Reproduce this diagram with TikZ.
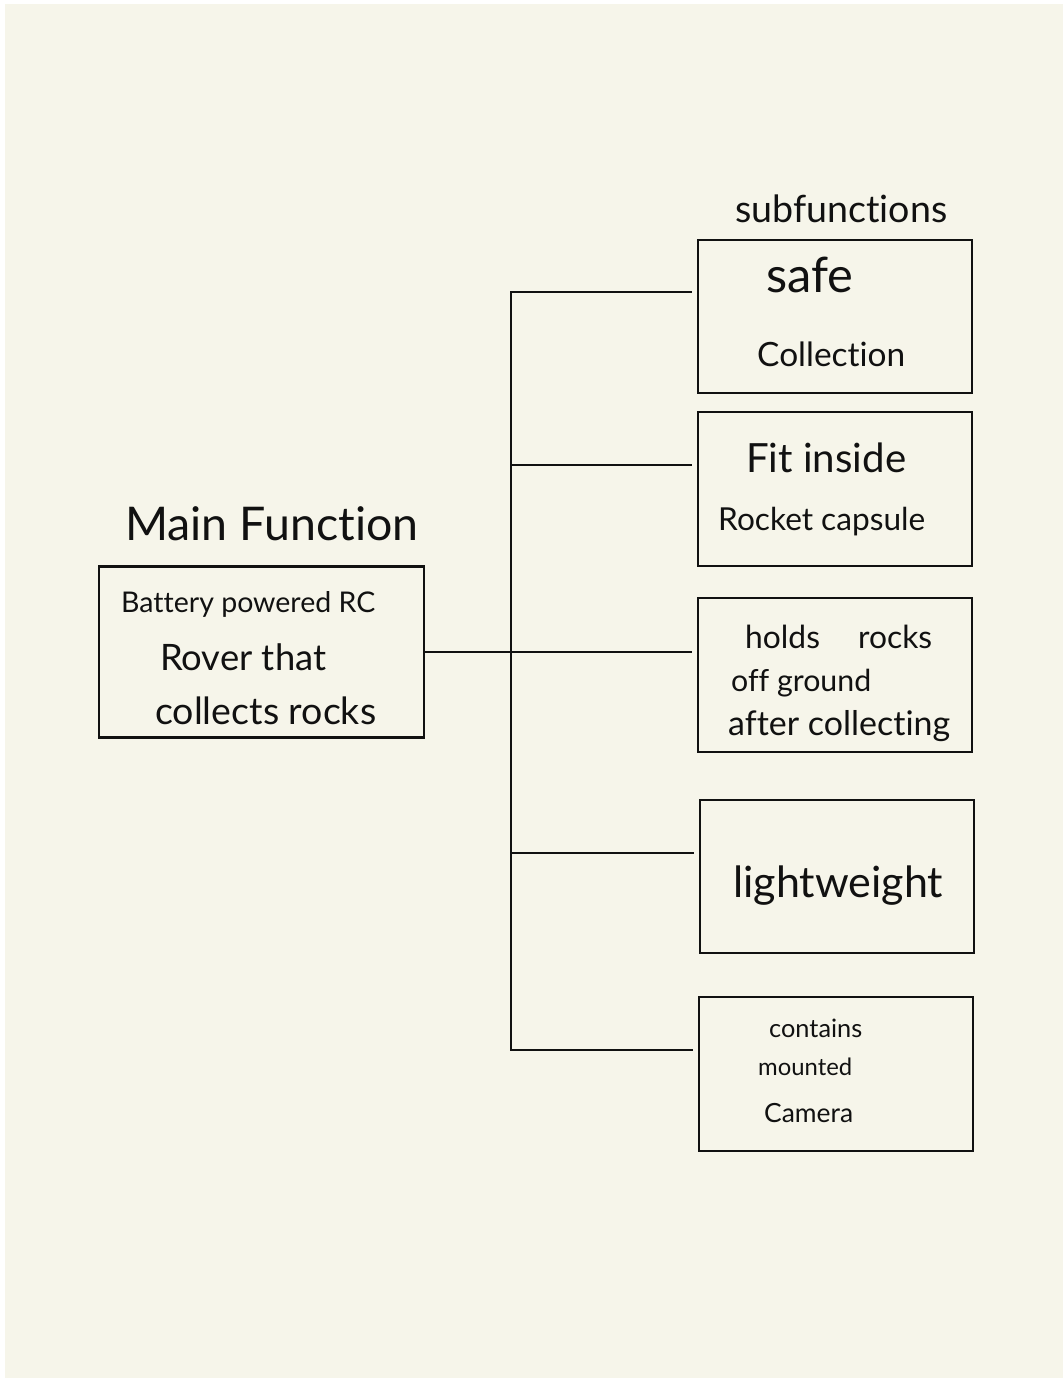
\documentclass[tikz,border=0pt]{standalone}
\usepackage{fontspec}
\setmainfont{Lato}[Ligatures=NoCommon]
\usetikzlibrary{calc}
\definecolor{paper}{HTML}{F6F5EA}
\definecolor{ink}{HTML}{111111}
\newcommand{\hw}[2]{\resizebox{#1pt}{!}{#2}}
\begin{document}
\begin{tikzpicture}[x=1pt,y=-1pt,
  box/.style={draw=ink,line width=2.8pt,minimum width=#1,inner sep=0pt},
  txt/.style={anchor=base west,inner sep=0pt,text=ink},
  wire/.style={draw=ink,line width=2.8pt}]
\useasboundingbox (0,0) rectangle (1063,1378);
\fill[white] (0,0) rectangle (1063,1378);
\fill[paper] (5,4) rectangle (1063,1378);

% boxes
\node[box=325pt,minimum height=171pt] (main) at (261.5,652) {};
\node[box=274pt,minimum height=153pt] (b1) at (835,316.5) {};
\node[box=274pt,minimum height=154pt] (b2) at (835,489) {};
\node[box=274pt,minimum height=154pt] (b3) at (835,675) {};
\node[box=274pt,minimum height=153pt] (b4) at (837,876.5) {};
\node[box=274pt,minimum height=154pt] (b5) at (836,1074) {};

% titles
\node[txt] (tmain) at (125,540) {\hw{293}{Main Function}};
\node[txt] (tsub) at (735,222) {\hw{212}{subfunctions}};

% box texts
\node[txt] (m1) at (121,612) {\hw{254}{Battery powered RC}};
\node[txt] (m2) at (160,670) {\hw{166}{Rover that}};
\node[txt] (m3) at (155,724) {\hw{221}{collects rocks}};

\node[txt] (s1a) at (766,292) {\hw{87}{safe}};
\node[txt] (s1b) at (757,366) {\hw{148}{Collection}};

\node[txt] (s2a) at (746,472) {\hw{160}{Fit inside}};
\node[txt] (s2b) at (718,530) {\hw{207}{Rocket capsule}};

\node[txt] (s3a) at (745,648) {\hw{187}{holds\hspace{1.2em}rocks}};
\node[txt] (s3b) at (731,691) {\hw{140}{off ground}};
\node[txt] (s3c) at (728,735) {\hw{222}{after collecting}};

\node[txt] (s4a) at (733,897) {\hw{210}{lightweight}};

\node[txt] (s5a) at (769,1037) {\hw{93}{contains}};
\node[txt] (s5b) at (758,1075) {\hw{94}{mounted}};
\node[txt] (s5c) at (764,1122) {\hw{89}{Camera}};

% connectors
\coordinate (j1) at (511,292);
\coordinate (j2) at (511,465);
\coordinate (j3) at (511,652);
\coordinate (j4) at (511,853);
\coordinate (j5) at (511,1050);
\draw[wire,line cap=rect] (j1) -- (j5);
\draw[wire] (main.east) -- (j3);
\draw[wire] (j1) -- ($(b1.west |- j1)+(-5,0)$);
\draw[wire] (j2) -- ($(b2.west |- j2)+(-5,0)$);
\draw[wire] (j3) -- ($(b3.west |- j3)+(-5,0)$);
\draw[wire] (j4) -- ($(b4.west |- j4)+(-5,0)$);
\draw[wire] (j5) -- ($(b5.west |- j5)+(-5,0)$);
\end{tikzpicture}
\end{document}
